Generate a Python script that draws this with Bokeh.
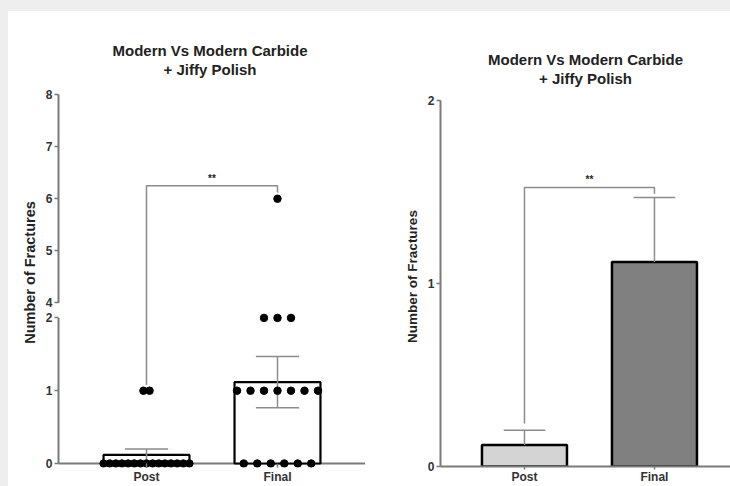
import numpy as np
from bokeh.plotting import figure
from bokeh.models import (FixedTicker, CustomJSTickFormatter, Title, Spacer, Range1d)
from bokeh.layouts import row, column
from bokeh.embed import file_html
from bokeh.resources import INLINE

# ---------------- data ----------------
groups = ["Post", "Final"]
post_values = [0, 0, 0, 0, 0, 0, 0, 0, 0, 0, 0, 0, 0, 0, 0, 1, 1]
final_values = [6, 2, 2, 2, 1, 1, 1, 1, 1, 1, 1, 0, 0, 0, 0, 0, 0]
lower_ticks = [0, 1, 2]
upper_ticks = [4, 5, 6, 7, 8]
right_ticks = [0, 1, 2]
significance = "**"

TITLE_1 = "Modern Vs Modern Carbide"
TITLE_2 = "+ Jiffy Polish"
Y_LABEL = "Number of Fractures"

FONT = "Liberation Sans"
AXIS_GRAY = "#7a7a7a"
ERR_GRAY = "#8c8c8c"
TEXT = "#222222"

# ---------------- summary statistics ----------------
series = [np.array(post_values, float), np.array(final_values, float)]
means = [float(s.mean()) for s in series]
sems = [float(s.std(ddof=1) / np.sqrt(len(s))) for s in series]
xpos = [1, 2]

# ---------------- broken y scale for the scatter panel ----------------
LOW_TOP = 2.0        # lower segment: 0..2 drawn 1:1
GAP = 0.205          # empty space between segments
UP_START = 4.0       # upper segment begins at 4
UP_SCALE = 0.716     # compression of the upper segment


def disp(v):
    v = np.asarray(v, float)
    return np.where(v <= LOW_TOP, v, LOW_TOP + GAP + (v - UP_START) * UP_SCALE)


def style_text(p):
    p.outline_line_color = None
    p.xgrid.visible = False
    p.ygrid.visible = False
    p.background_fill_color = "white"
    p.border_fill_color = "white"
    p.frame_align = False
    for ax in (p.xaxis[0], p.yaxis[0]):
        ax.major_label_text_font = FONT
        ax.major_label_text_font_style = "bold"
        ax.major_label_text_font_size = "12px"
        ax.major_label_text_color = "#333333"
        ax.axis_label_text_font = FONT
        ax.axis_label_text_font_style = "bold"
        ax.axis_label_text_color = TEXT
        ax.minor_tick_line_color = None
        ax.major_tick_line_color = AXIS_GRAY
        ax.major_tick_line_width = 1.5


def add_titles(p):
    # first added sits next to the frame
    for txt in (TITLE_2, TITLE_1):
        p.add_layout(Title(text=txt, align="center", text_font=FONT,
                           text_font_style="bold", text_font_size="15px",
                           text_color=TEXT, standoff=0), "above")


def column_offsets(values, step_max=0.103, spread_max=0.655):
    vals = np.asarray(values, float)
    uniq, counts = np.unique(vals, return_counts=True)
    biggest = counts.max()
    step = step_max if biggest < 2 else min(step_max, spread_max / (biggest - 1))
    offs = np.zeros(len(vals))
    for u, c in zip(uniq, counts):
        idx = np.where(vals == u)[0]
        offs[idx] = (np.arange(c) - (c - 1) / 2) * step
    return offs


# ================= left panel: individual values, broken axis =================
x_axis_pos = 0.3282
x_end_left = 2.6718
p1 = figure(width=357, height=475, x_range=Range1d(0.2977, x_end_left),
            y_range=Range1d(-0.0548, float(disp(upper_ticks[-1])) + 0.233),
            output_backend="svg", toolbar_location=None,
            min_border_left=46, min_border_right=0,
            min_border_top=66, min_border_bottom=18)
style_text(p1)
add_titles(p1)

yticks = [float(t) for t in disp(lower_ticks + upper_ticks)]
p1.yaxis.ticker = FixedTicker(ticks=yticks)
p1.yaxis.formatter = CustomJSTickFormatter(
    args=dict(low=LOW_TOP, gap=GAP, start=UP_START, scale=UP_SCALE),
    code="""
    if (tick <= low + 1e-6) return tick.toFixed(0);
    return (start + (tick - low - gap) / scale).toFixed(0);
    """)
p1.yaxis.axis_line_color = None
p1.yaxis.major_tick_in = 4
p1.yaxis.major_tick_out = 0
p1.yaxis.major_label_standoff = 2
p1.yaxis.axis_label = Y_LABEL
p1.yaxis.axis_label_text_font_size = "14.5px"
p1.yaxis.axis_label_standoff = 5

p1.xaxis.ticker = FixedTicker(ticks=xpos)
p1.xaxis.major_label_overrides = {1: groups[0], 2: groups[1]}
p1.xaxis.axis_line_color = None
p1.xaxis.major_tick_in = 4
p1.xaxis.major_tick_out = 0
p1.xaxis.major_label_standoff = 2

# axis lines (two y segments + baseline)
p1.segment(x0=[x_axis_pos, x_axis_pos], x1=[x_axis_pos, x_axis_pos],
           y0=[float(disp(lower_ticks[0])), float(disp(upper_ticks[0]))],
           y1=[float(disp(lower_ticks[-1])), float(disp(upper_ticks[-1]))],
           line_color=AXIS_GRAY, line_width=2)
p1.segment(x0=[x_axis_pos], x1=[x_end_left], y0=[0], y1=[0],
           line_color=AXIS_GRAY, line_width=2)

# bars of the means
p1.vbar(x=xpos, top=[float(disp(m)) for m in means], width=0.656,
        fill_color="white", line_color="black", line_width=2.2)

# mean ± SEM
lo = [float(disp(m - s)) for m, s in zip(means, sems)]
hi = [float(disp(m + s)) for m, s in zip(means, sems)]
p1.segment(x0=xpos, x1=xpos, y0=lo, y1=hi, line_color=ERR_GRAY, line_width=1.5)
cap = 0.165
p1.segment(x0=[x - cap for x in xpos] * 2, x1=[x + cap for x in xpos] * 2,
           y0=lo + hi, y1=lo + hi, line_color=ERR_GRAY, line_width=1.5)

# individual points
for x, vals in zip(xpos, [post_values, final_values]):
    offs = column_offsets(vals)
    p1.scatter(x=x + offs, y=disp(vals), size=7.5, marker="circle",
               fill_color="black", line_color="black")

# significance bracket
br_top = 6.25
p1.multi_line(xs=[[1, 1, 2, 2]],
              ys=[[float(disp(1.08)), float(disp(br_top)), float(disp(br_top)),
                   float(disp(6.12))]],
              line_color=ERR_GRAY, line_width=1.5)
p1.text(x=[1.5], y=[float(disp(br_top))], text=[significance], y_offset=-2,
        text_align="center", text_baseline="bottom", text_font_size="10px",
        text_font_style="bold", text_color=TEXT)

# ================= right panel: mean + SEM bars =================
p2 = figure(width=365, height=475, x_range=Range1d(0.354, 2.585),
            y_range=Range1d(0, 2.0765), output_backend="svg",
            toolbar_location=None,
            min_border_left=75, min_border_right=0,
            min_border_top=75, min_border_bottom=20)
style_text(p2)
add_titles(p2)

p2.yaxis.ticker = FixedTicker(ticks=right_ticks)
p2.yaxis.bounds = (right_ticks[0], right_ticks[-1])
p2.yaxis.axis_line_color = AXIS_GRAY
p2.yaxis.axis_line_width = 2
p2.yaxis.major_tick_in = 0
p2.yaxis.major_tick_out = 4
p2.yaxis.major_label_standoff = 2
p2.yaxis.axis_label = Y_LABEL
p2.yaxis.axis_label_text_font_size = "13.5px"
p2.yaxis.axis_label_standoff = 5

p2.xaxis.ticker = FixedTicker(ticks=xpos)
p2.xaxis.major_label_overrides = {1: groups[0], 2: groups[1]}
p2.xaxis.axis_line_color = AXIS_GRAY
p2.xaxis.axis_line_width = 2
p2.xaxis.major_tick_in = 0
p2.xaxis.major_tick_out = 3
p2.xaxis.major_label_standoff = 0

p2.vbar(x=xpos, top=means, width=0.654, fill_color=["#d4d4d4", "#808080"],
        line_color="black", line_width=2.5)
up = [m + s for m, s in zip(means, sems)]
p2.segment(x0=xpos, x1=xpos, y0=means, y1=up, line_color=ERR_GRAY, line_width=1.5)
p2.segment(x0=[x - 0.16 for x in xpos], x1=[x + 0.16 for x in xpos],
           y0=up, y1=up, line_color=ERR_GRAY, line_width=1.5)

br2 = 1.525
p2.multi_line(xs=[[1, 1, 2, 2]], ys=[[0.235, br2, br2, 1.49]],
              line_color=ERR_GRAY, line_width=1.5)
p2.text(x=[1.5], y=[br2], text=[significance], y_offset=-2,
        text_align="center", text_baseline="bottom", text_font_size="10px",
        text_font_style="bold", text_color=TEXT)

panels = row(p1, p2, styles={"background-color": "white"})
layout = column(
    Spacer(width=730, height=11, styles={"background-color": "#eeeeee"}),
    row(Spacer(width=8, height=475, styles={"background-color": "#eeeeee"}),
        panels),
    styles={"background-color": "white"},
)

open("out.html", "w").write(file_html(layout, INLINE))
